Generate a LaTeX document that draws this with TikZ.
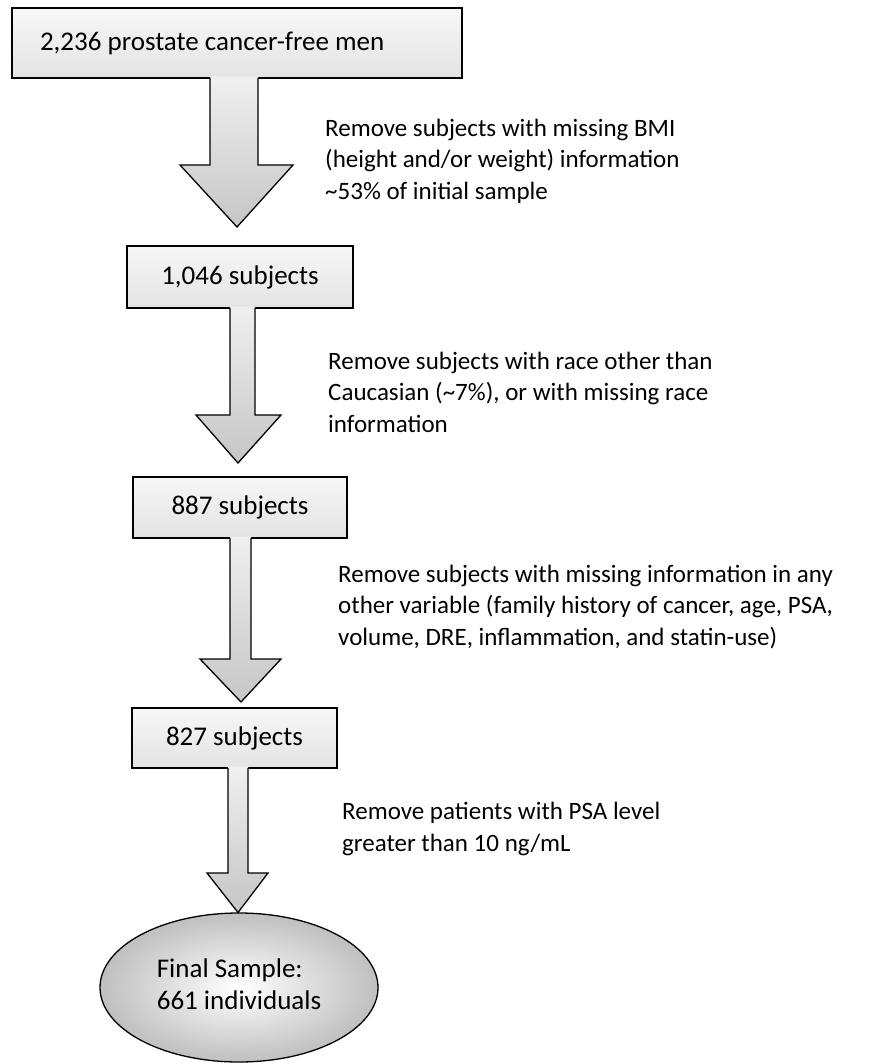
\documentclass[tikz,border=0pt]{standalone}
\usepackage{fontspec}
\setmainfont{Carlito}
\usetikzlibrary{shapes.geometric}
\begin{document}
\begin{tikzpicture}[x=1pt,y=-1pt,
  every node/.style={font=\fontsize{25}{31.5}\selectfont, inner sep=0pt},
  stepbox/.style={draw=black, line width=1.3pt, top color=gray!6, bottom color=gray!22, rectangle, font=\fontsize{27}{32}\selectfont},
  arrowbody/.style={top color=gray!12, bottom color=gray!45},
  arrowline/.style={draw=black, line width=1.3pt, line join=miter},
  note/.style={anchor=west, align=left}
]
\useasboundingbox (0,0) rectangle (875,1064);

% boxes
\node[stepbox, minimum width=450pt, minimum height=70pt] (b1) at (237,43) {\makebox[394pt][l]{2,236 prostate cancer-free men}};
\node[stepbox, minimum width=226pt, minimum height=62pt] (b2) at (240,277) {1,046 subjects};
\node[stepbox, minimum width=214pt, minimum height=61pt] (b3) at (240,507.5) {887 subjects};
\node[stepbox, minimum width=205pt, minimum height=60pt] (b4) at (234.5,738) {827 subjects};
\node[ellipse, draw=black, line width=1.3pt, inner color=white, outer color=gray!50, minimum width=278pt, minimum height=149pt, font=\fontsize{27}{32}\selectfont] (fin) at (239,987.5) {\raisebox{-5pt}{\begin{tabular}{@{}l@{}}Final Sample:\\661 individuals\end{tabular}}};

% arrows: shaft left, shaft right, head left, head right, base y, tip, top y
\newcommand{\flowarrow}[7]{%
  \path[arrowbody] (#1,#7-1.5) -- (#1,#5) -- (#3,#5) -- (#6) -- (#4,#5) -- (#2,#5) -- (#2,#7-1.5) -- cycle;
  \draw[arrowline] (#1,#7) -- (#1,#5) -- (#3,#5) -- (#6) -- (#4,#5) -- (#2,#5) -- (#2,#7);
}
\coordinate (t1) at (237,227);
\coordinate (t2) at (238,463);
\coordinate (t3) at (241,702);
\coordinate (t4) at (238,912.5);
\flowarrow{210}{258}{180}{293}{165}{t1}{78}
\flowarrow{230}{255}{196}{281}{415}{t2}{308}
\flowarrow{230}{251}{200}{281}{659}{t3}{538}
\flowarrow{228}{248}{207}{268}{873}{t4}{768}

% notes
\node[note] (n1) at (325,161) {Remove subjects with missing BMI\\(height and/or weight) information\\\textasciitilde53\% of initial sample};
\node[note] (n2) at (328,392) {Remove subjects with race other than\\Caucasian (\textasciitilde7\%), or with missing race\\information};
\node[note] (n3) at (338,607) {Remove subjects with missing information in any\\other variable (family history of cancer, age, PSA,\\volume, DRE, inflammation, and statin-use)};
\node[note] (n4) at (342,829) {Remove patients with PSA level\\greater than 10 ng/mL};
\end{tikzpicture}
\end{document}
